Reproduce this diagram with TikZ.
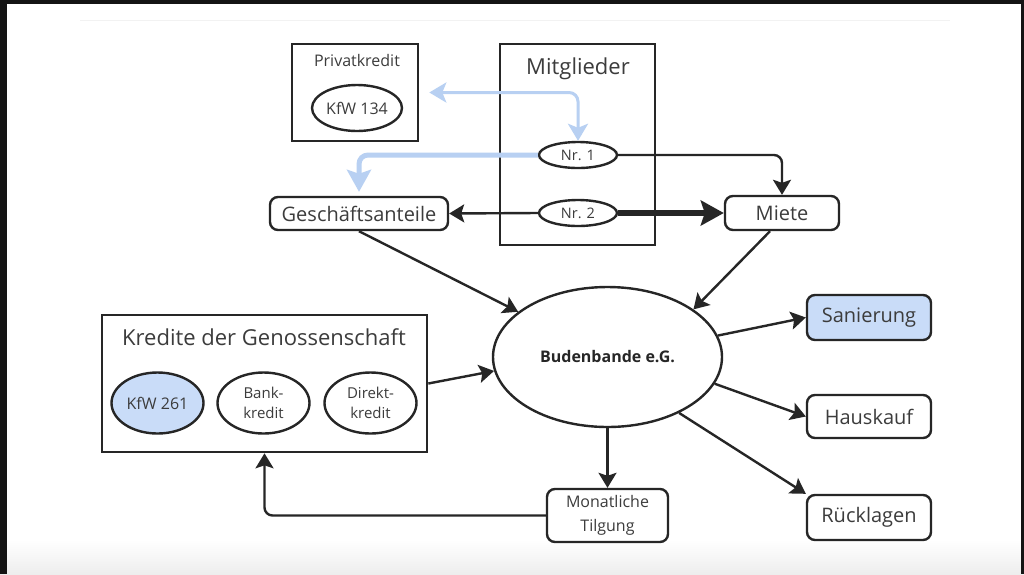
\documentclass[tikz,border=0pt]{standalone}
\usepackage{fontspec}
\setmainfont{Open Sans}
\usepackage{tikz}
\usetikzlibrary{arrows.meta,positioning,shapes.geometric}
\definecolor{ink}{HTML}{262626}
\definecolor{textgray}{HTML}{3C3C3C}
\definecolor{paleblue}{HTML}{C9DCF8}
\definecolor{flowblue}{HTML}{B8D0F2}
\definecolor{screen}{HTML}{141414}
\tikzset{
  frame/.style={draw=ink, line width=2.6pt, fill=white, inner sep=0pt},
  title/.style={text=textgray, inner sep=0pt, font=\fontsize{22}{26}\selectfont},
  oval/.style={draw=ink, ellipse, line width=2.4pt, fill=white, text=textgray, align=center, inner sep=0pt, font=\fontsize{15}{20}\selectfont},
  item/.style={draw=ink, rounded corners=8pt, line width=2.4pt, fill=white, text=textgray, align=center, inner sep=0pt, font=\fontsize{20}{24}\selectfont},
  arrow/.style={-{Stealth[length=15pt,width=18pt,inset=3pt]}, line width=2.4pt, draw=ink},
  bigarrow/.style={-{Stealth[length=23pt,width=25pt,inset=4pt]}, line width=5.5pt, draw=ink},
  bluearrow/.style={-{Stealth[length=17pt,width=20pt,inset=4pt]}, line width=3.5pt, draw=flowblue, rounded corners=9pt}
}
\begin{document}
\begin{tikzpicture}[x=1pt, y=-1pt]
  % screenshot background
  \useasboundingbox (0,0) rectangle (1024,574);
  \fill[white] (0,0) rectangle (1024,574);
  \shade[top color=white, bottom color=black!7] (0,540) rectangle (1024,574);
  \fill[screen] (0,0) rectangle (1024,4);
  \fill[screen] (0,0) rectangle (7,574);
  \fill[screen] (1021,0) rectangle (1024,574);
  \draw[black!5] (80,20) -- (950,20);

  % containers
  \node[frame, minimum width=126pt, minimum height=97pt] (privat) at (355,92.5) {};
  \node[title, font=\fontsize{16}{20}\selectfont] (privattitle) at (357,60) {Privatkredit};
  \node[frame, minimum width=155pt, minimum height=201pt] (mitglieder) at (577.5,144.5) {};
  \node[title] (mitgliedertitle) at (578,69) {Mitglieder};
  \node[frame, minimum width=325pt, minimum height=137pt] (kredite) at (264.5,383.5) {};
  \node[title] (kreditetitle) at (264,337) {Kredite der Genossenschaft};

  % ovals
  \node[oval, minimum width=90pt, minimum height=46pt, font=\fontsize{16}{20}\selectfont] (kfw134) at (357,108) {KfW 134};
  \node[oval, minimum width=78pt, minimum height=26pt, font=\fontsize{14.5}{18}\selectfont] (nr1) at (578,155) {Nr. 1};
  \node[oval, minimum width=78pt, minimum height=26pt, font=\fontsize{14.5}{18}\selectfont] (nr2) at (578,213) {Nr. 2};
  \node[oval, minimum width=92pt, minimum height=61pt, fill=paleblue, font=\fontsize{16}{20}\selectfont] (kfw261) at (157.5,403) {KfW 261};
  \node[oval, minimum width=92pt, minimum height=61pt] (bank) at (263.5,403) {Bank-\\kredit};
  \node[oval, minimum width=92pt, minimum height=61pt] (direkt) at (370.5,403) {Direkt-\\kredit};
  \node[oval, minimum width=229pt, minimum height=140pt, text=ink, font=\fontsize{16}{20}\selectfont\bfseries] (bude) at (607.5,357) {Budenbande e.G.};

  % boxes
  \node[item, minimum width=178pt, minimum height=33pt] (gesch) at (359,213.5) {Geschäftsanteile};
  \node[item, minimum width=114pt, minimum height=34pt] (miete) at (782,213) {Miete};
  \node[item, minimum width=124pt, minimum height=45pt, fill=paleblue] (sanierung) at (869,317.5) {Sanierung};
  \node[item, minimum width=124pt, minimum height=43pt] (hauskauf) at (869,416.5) {Hauskauf};
  \node[item, minimum width=124pt, minimum height=45pt] (ruecklagen) at (869,517.5) {Rücklagen};
  \node[item, minimum width=121pt, minimum height=53pt, font=\fontsize{16}{24}\selectfont] (tilgung) at (607.5,515.5) {Monatliche\\Tilgung};

  % flows
  \draw[bluearrow, {Stealth[length=17pt,width=20pt,inset=4pt]}-{Stealth[length=17pt,width=20pt,inset=4pt]}, line width=3pt, shorten <=10pt] (privat.east) -- (nr1.north |- privat.east) -- (nr1.north);
  \draw[bluearrow, line width=5pt, -{Stealth[length=22pt,width=24pt,inset=4pt]}, shorten >=4pt] (nr1.west) -- (gesch.north |- nr1.west) -- (gesch.north);
  \draw[arrow, rounded corners=8pt] (nr1.east) -- (miete.north |- nr1.east) -- (miete.north);
  \draw[arrow] (nr2.west) -- (gesch.east);
  \draw[bigarrow] (nr2.east) -- (miete.west);
  \draw[arrow] (gesch.south) -- (bude);
  \draw[arrow] (miete.south) ++(-12,0) -- (bude.29);
  \draw[arrow] (kredite.east) -- (bude.187);
  \draw[arrow] (bude.11) -- (sanierung.west);
  \draw[arrow] (bude.-14) -- (hauskauf.west);
  \draw[arrow] (bude.-38) -- (ruecklagen.north west);
  \draw[arrow] (bude.south) -- (tilgung.north);
  \draw[arrow, rounded corners=8pt] (tilgung.west) -| (kredite.south);
\end{tikzpicture}
\end{document}
